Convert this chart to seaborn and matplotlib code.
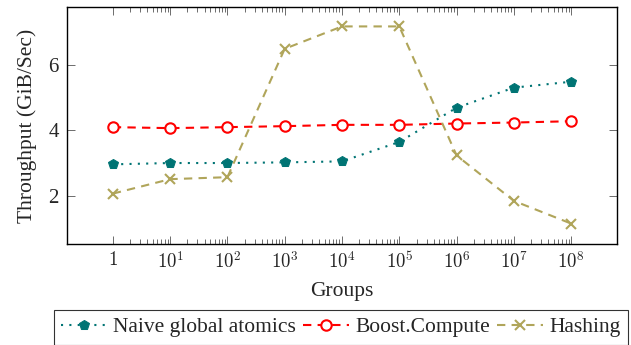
import matplotlib
matplotlib.use("Agg")
import matplotlib.pyplot as plt
import seaborn as sns
import pandas as pd
from matplotlib.ticker import NullFormatter, FixedLocator

groups = [1, 1e1, 1e2, 1e3, 1e4, 1e5, 1e6, 1e7, 1e8]
naive = [2.97, 3.01, 3.01, 3.03, 3.06, 3.65, 4.69, 5.30, 5.48]
boost = [4.10, 4.07, 4.10, 4.13, 4.17, 4.17, 4.21, 4.24, 4.28]
hashing = [2.08, 2.52, 2.58, 6.48, 7.16, 7.16, 3.24, 1.86, 1.17]
xtick_labels = ["$1$", "$10^{1}$", "$10^{2}$", "$10^{3}$", "$10^{4}$",
                "$10^{5}$", "$10^{6}$", "$10^{7}$", "$10^{8}$"]
yticks = [2, 4, 6]
names = ["Naive global atomics", "Boost.Compute", "Hashing"]

sns.set_theme(style="white")
plt.rcParams["font.family"] = ["Liberation Serif", "DejaVu Serif"]
plt.rcParams["mathtext.fontset"] = "cm"

fig = plt.figure(figsize=(6.31, 3.45), dpi=100)
ax = fig.add_axes([67/631, 1-244/345, 550/631, 237/345])

teal = "#007474"
red = "#ff0000"
olive = "#b0a55a"

df = pd.DataFrame({"Groups": groups, "naive": naive, "boost": boost, "hashing": hashing})

sns.lineplot(data=df, x="Groups", y="naive", ax=ax, color=teal, linestyle=(0, (1, 3)),
             linewidth=1.5, marker="p", markersize=7, markeredgecolor=teal,
             markerfacecolor=teal, label=names[0])
sns.lineplot(data=df, x="Groups", y="boost", ax=ax, color=red, linestyle=(0, (4, 3)),
             linewidth=1.5, marker="o", markersize=7.5, markeredgecolor=red,
             markerfacecolor="white", markeredgewidth=1.5, label=names[1])
sns.lineplot(data=df, x="Groups", y="hashing", ax=ax, color=olive, linestyle=(0, (4, 3)),
             linewidth=1.5, marker="x", markersize=6.5, markeredgecolor=olive,
             markeredgewidth=1.5, label=names[2])

ax.set_xscale("log")
ax.set_xlim(10**-0.8, 10**8.8)
ax.set_ylim(0.55, 7.75)
ax.xaxis.set_major_locator(FixedLocator(groups))
ax.set_xticks(groups)
ax.set_xticklabels(xtick_labels, fontsize=13.5)
minors = [m * 10**e for e in range(0, 8) for m in range(2, 10)]
ax.xaxis.set_minor_locator(FixedLocator(minors))
ax.xaxis.set_minor_formatter(NullFormatter())
ax.set_yticks(yticks)
ax.set_yticklabels([str(v) for v in yticks], fontsize=15)

ax.tick_params(axis="both", which="major", direction="in", length=5.5, width=0.6,
               color="#555555", top=True, right=True, bottom=True, left=True)
ax.tick_params(axis="x", which="major", pad=5)
ax.tick_params(axis="x", which="minor", direction="in", length=3.5, width=0.6,
               color="#555555", top=True, bottom=True)
ax.tick_params(axis="y", which="major", pad=6)
for s in ax.spines.values():
    s.set_color("black")
    s.set_linewidth(1.0)

ax.set_xlabel("Groups", fontsize=15.5, labelpad=7)
ax.set_ylabel("Throughput (GiB/Sec)", fontsize=15.5, labelpad=8)

ax.get_legend().remove()
handles, labels = ax.get_legend_handles_labels()
leg = fig.legend(handles, labels, loc="upper center", bbox_to_anchor=(0.54, 1-299/345),
                 ncol=3, fontsize=15.5, frameon=True, fancybox=False, edgecolor="black",
                 handlelength=2.1, handletextpad=0.3, columnspacing=0.35,
                 borderpad=0.35, numpoints=1)
leg.get_frame().set_linewidth(0.8)

fig.savefig("out.png", dpi=100)
